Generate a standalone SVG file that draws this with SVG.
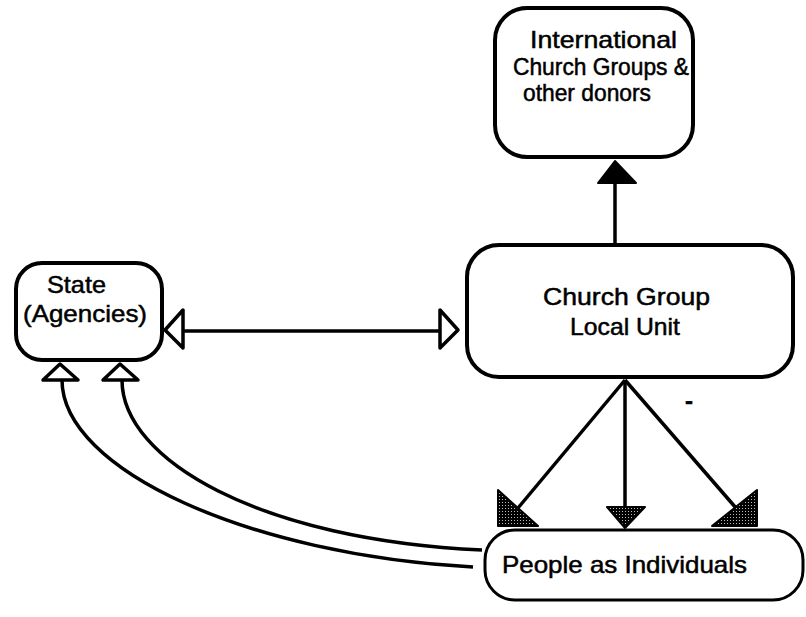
<svg xmlns="http://www.w3.org/2000/svg" width="806" height="617" viewBox="0 0 806 617">
<style>
.box{fill:#fff;stroke:#000;stroke-width:4}
.lbl{font-family:"Liberation Sans",Arial,sans-serif;font-size:24px;fill:#000;stroke:#000;stroke-width:0.5}
.ln{fill:none;stroke:#000;stroke-width:3.5}
.open{fill:#fff;stroke:#000;stroke-width:3.5;stroke-linejoin:round}
.solid{fill:#000;stroke:#000;stroke-width:2;stroke-linejoin:round}
.stip{fill:url(#stipple);stroke:#000;stroke-width:2;stroke-linejoin:round}
</style>
<defs>
<pattern id="stipple" width="3" height="3" patternUnits="userSpaceOnUse">
<rect width="3" height="3" fill="#000"/>
<rect x="1" y="1" width="1" height="1" fill="#bbb"/>
</pattern>
</defs>
<rect width="806" height="617" fill="#fff"/>
<g id="connectors">
<line class="ln" x1="615" y1="245" x2="615" y2="180"/>
<polygon class="solid" points="615,161 598,183 636,183"/>
<line class="ln" x1="183" y1="331" x2="440" y2="331"/>
<polygon class="open" points="165,330 183,310 183,348"/>
<polygon class="open" points="458,330 440,310 440,348"/>
<line class="ln" x1="625" y1="380" x2="518" y2="508"/>
<polygon class="stip" points="498,526 498,490 538,526"/>
<line class="ln" x1="625" y1="380" x2="625" y2="508"/>
<polygon class="stip" points="625,528 607,507 645,507"/>
<line class="ln" x1="625" y1="380" x2="736" y2="508"/>
<polygon class="stip" points="757,526 757,490 712,526"/>
<path class="ln" d="M473,567 C250,555 62,470 62,380"/>
<polygon class="open" points="60,364 43,380 78,380"/>
<path class="ln" d="M482,550 C260,540 122,460 122,380"/>
<polygon class="open" points="120,364 103,380 138,380"/>
</g>
<g id="intl">
<rect class="box" x="495" y="8" width="198" height="149" rx="32"/>
<text class="lbl" x="530" y="48" textLength="147" lengthAdjust="spacingAndGlyphs">International</text>
<text class="lbl" x="513" y="75" textLength="176" lengthAdjust="spacingAndGlyphs">Church Groups &amp;</text>
<text class="lbl" x="523" y="101" textLength="128" lengthAdjust="spacingAndGlyphs">other donors</text>
</g>
<g id="church">
<rect class="box" x="467" y="245" width="326" height="132" rx="32"/>
<text class="lbl" x="543" y="305" textLength="167" lengthAdjust="spacingAndGlyphs">Church Group</text>
<text class="lbl" x="570" y="335" textLength="110" lengthAdjust="spacingAndGlyphs">Local Unit</text>
</g>
<g id="state">
<rect class="box" x="16" y="263" width="146" height="97" rx="26"/>
<text class="lbl" x="47" y="293" font-size="22" textLength="59" lengthAdjust="spacingAndGlyphs">State</text>
<text class="lbl" x="23" y="322" font-size="22" textLength="124" lengthAdjust="spacingAndGlyphs">(Agencies)</text>
</g>
<g id="people">
<rect class="box" x="485" y="530" width="318" height="70" rx="30" style="stroke-width:3"/>
<text class="lbl" x="502" y="573" textLength="245" lengthAdjust="spacingAndGlyphs">People as Individuals</text>
</g>
<text class="lbl" x="685" y="409" font-size="22" font-weight="bold">-</text>
</svg>
